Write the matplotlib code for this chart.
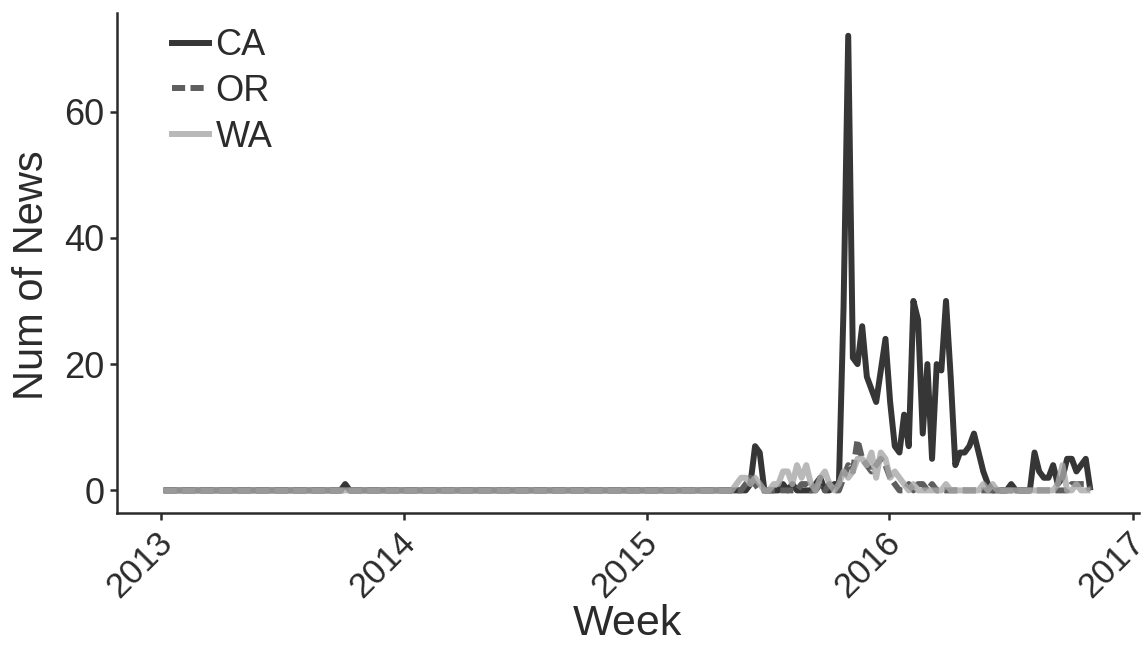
import numpy as np
import pandas as pd
import matplotlib
matplotlib.use("Agg")
import matplotlib.pyplot as plt
from matplotlib.lines import Line2D
from matplotlib.transforms import ScaledTranslation

plt.rcParams['font.family'] = ['Liberation Sans', 'DejaVu Sans']

# weekly counts, 200 weeks from early Jan 2013
weeks = pd.date_range("2013-01-05", periods=200, freq="7D")

# weeks 120..199 carry nearly all of the activity
ca_late = [0, 0, 0, 0, 0, 0, 1, 7, 6, 0,
           0, 0, 0, 1, 0, 1, 0, 0, 0, 0,
           1, 2, 0, 0, 1, 1, 29, 72, 21, 20,
           26, 18, 16, 14, 19, 24, 14, 7, 6, 12,
           7, 30, 27, 9, 20, 5, 20, 19, 30, 18,
           4, 6, 6, 7, 9, 6, 3, 1, 0, 0,
           0, 0, 1, 0, 0, 0, 0, 6, 3, 2,
           2, 4, 1, 2, 5, 5, 3, 4, 5, 0]
or_late = [0, 0, 0, 0, 0, 1, 2, 1, 0, 0,
           0, 0, 0, 0, 0, 0, 0, 1, 1, 0,
           0, 1, 0, 1, 0, 0, 2, 4, 3, 8,
           5, 4, 3, 4, 5, 4, 2, 1, 0, 0,
           1, 0, 1, 1, 0, 1, 0, 0, 0, 0,
           0, 0, 0, 0, 0, 0, 0, 0, 0, 0,
           0, 0, 0, 0, 0, 0, 0, 0, 0, 0,
           0, 0, 0, 0, 0, 1, 1, 1, 1, 0]
wa_late = [0, 0, 0, 1, 2, 2, 1, 2, 1, 0,
           0, 1, 1, 3, 3, 1, 4, 2, 4, 1,
           0, 2, 3, 1, 0, 1, 3, 2, 3, 5,
           5, 4, 6, 2, 6, 5, 2, 3, 2, 1,
           0, 1, 0, 0, 0, 0, 0, 0, 1, 0,
           0, 0, 0, 0, 0, 0, 1, 0, 1, 0,
           0, 0, 0, 0, 0, 0, 0, 0, 0, 0,
           0, 0, 1, 4, 0, 0, 1, 0, 0, 0]

ca = [0] * 39 + [1] + [0] * 80 + ca_late
or_ = [0] * 120 + or_late
wa = [0] * 120 + wa_late

states = ["CA", "OR", "WA"]
colors = ["#363636", "#5e5e5e", "#a8a8a8"]
styles = ["-", (0, (2.2, 0.9)), "-"]
alphas = [1.0, 1.0, 0.8]
LW = 4.3
ink = "#2b2b2b"

fig = plt.figure(figsize=(11.47, 6.52), dpi=100)
ax = fig.add_axes([0.102, 0.213, 0.891, 0.767])

for vals, c, ls, a in zip([ca, or_, wa], colors, styles, alphas):
    ax.plot(weeks, vals, color=c, linestyle=ls, alpha=a, lw=LW,
            solid_joinstyle="round", solid_capstyle="butt", dash_capstyle="butt")

ax.set_xlim(pd.Timestamp("2012-10-27"), pd.Timestamp("2017-01-10"))
ax.set_ylim(-3.6, 75.6)

years = [2013, 2014, 2015, 2016, 2017]
ax.set_xticks([pd.Timestamp(f"{y}-01-01") for y in years])
ax.set_xticklabels([str(y) for y in years], rotation=45, ha="right", va="top",
                   rotation_mode="anchor")
ax.set_yticks([0, 20, 40, 60])

for s in ["top", "right"]:
    ax.spines[s].set_visible(False)
for s in ["left", "bottom"]:
    ax.spines[s].set_color(ink)
    ax.spines[s].set_linewidth(1.8)
ax.tick_params(colors=ink, labelsize=26, width=1.8, length=5, pad=4)
ax.tick_params(axis="x", labelsize=25)
# nudge rotated year labels a little to the left
nudge = ScaledTranslation(-4 / 72, 0, fig.dpi_scale_trans)
for lab in ax.get_xticklabels():
    lab.set_transform(lab.get_transform() + nudge)

ax.set_xlabel("Week", fontsize=31, color=ink, labelpad=0)
ax.set_ylabel("Num of News", fontsize=30, color=ink, labelpad=6)
ax.yaxis.set_label_coords(-0.064, 0.475)

handles = [Line2D([], [], color=c, linestyle=ls, alpha=a, lw=LW)
           for c, ls, a in zip(colors, styles, alphas)]
leg = ax.legend(handles, states, loc="upper left", bbox_to_anchor=(0.047, 0.984),
                frameon=False, fontsize=26, handlelength=1.03, handletextpad=0.17,
                labelspacing=0.3, borderaxespad=0, borderpad=0.2)
for t in leg.get_texts():
    t.set_color(ink)

fig.savefig("out.png", dpi=100)
